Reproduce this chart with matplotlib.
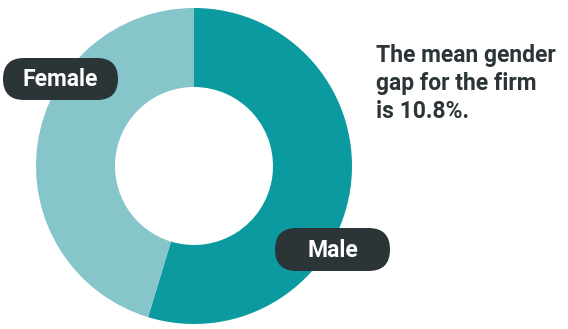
import matplotlib.pyplot as plt
from matplotlib.patches import FancyBboxPatch

plt.rcParams['font.family'] = ['Roboto', 'DejaVu Sans']

# share of employees by gender
labels = ['Male', 'Female']
shares = [54.7, 45.3]
colors = ['#0a9a9f', '#86c5ca']
headline = 'The mean gender\ngap for the firm\nis 10.8%.'

W, H = 568, 329
fig = plt.figure(figsize=(W / 100, H / 100), dpi=100)
ax = fig.add_axes([0, 0, 1, 1])

# donut, male starting at 12 o'clock going clockwise
cx, cy, r = 194, 163, 158
ax.pie(shares, colors=colors, startangle=90, counterclock=False,
       center=(cx, cy), radius=r, frame=True,
       wedgeprops=dict(width=r * 0.5, linewidth=0))
ax.set_xlim(0, W)
ax.set_ylim(0, H)
ax.axis('off')

# pill-shaped labels
def pill(x0, y0, w, h, text):
    rad = h / 2
    box = FancyBboxPatch((x0 + rad, y0 + rad), w - h, 0,
                         boxstyle=f'round,pad={rad}',
                         fc='#2b3437', ec='none', zorder=5)
    ax.add_patch(box)
    ax.text(x0 + w / 2, y0 + h / 2 - 1, text, color='white', fontsize=16.5,
            fontweight='bold', ha='center', va='center', zorder=6)

pill(3, 229, 115, 42, labels[1])
pill(275, 58, 115, 43, labels[0])

fig.text(376 / W, 1 - 44 / H, headline, ha='left', va='top',
         fontsize=16.5, fontweight='bold', color='#2b3437', linespacing=1.27)

fig.savefig('out.png', dpi=100, facecolor='white')
